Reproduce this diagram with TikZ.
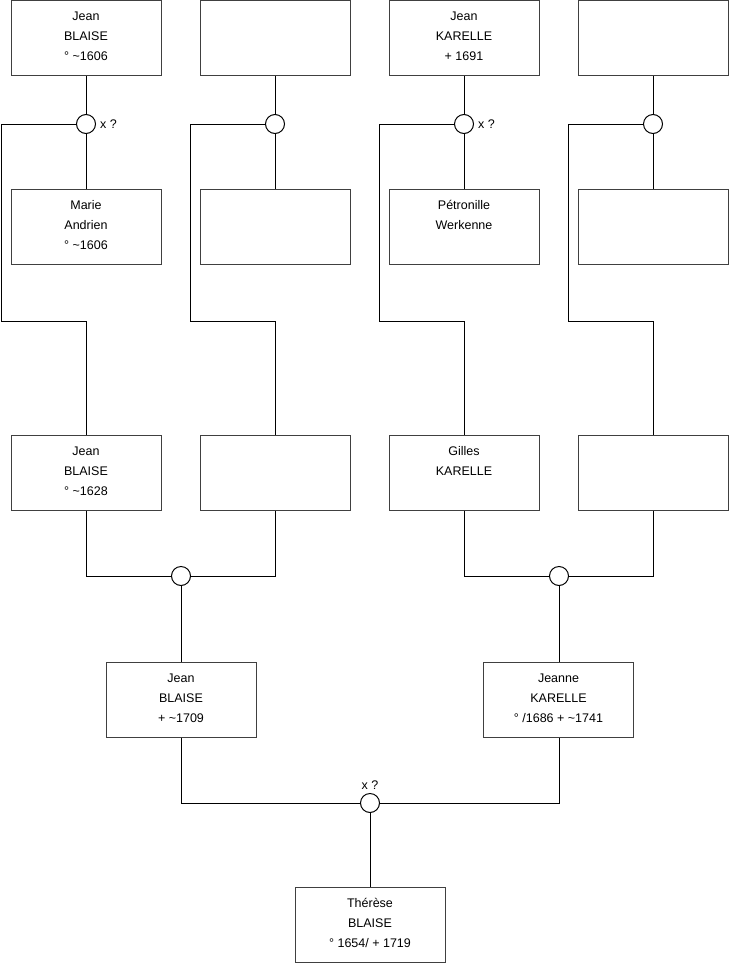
\documentclass[tikz,border=0pt]{standalone}
\usepackage{fontspec}
\setmainfont{Liberation Sans}
\newcommand\fl{\rule{0pt}{12pt}}
\begin{document}
\begin{tikzpicture}[x=1pt,y=-1pt,
  person/.style={draw=black!75,line width=1pt,minimum width=150pt,minimum height=75pt,inner sep=0pt,fill=white},
  union/.style={draw=black,line width=1pt,circle,minimum size=19pt,inner sep=0pt,fill=white},
  lbl/.style={anchor=north,inner sep=0pt,align=center,font=\fontsize{12.5}{20}\selectfont},
  xlbl/.style={inner sep=0pt,font=\fontsize{12.5}{14}\selectfont},
  link/.style={draw=black,line width=1pt}]
\useasboundingbox (0,0) rectangle (740,975);
% unions
\node[union] (u1) at (86,124) {};
\node[union] (u2) at (275,124) {};
\node[union] (u3) at (464,124) {};
\node[union] (u4) at (653,124) {};
\node[union] (u5) at (181,576) {};
\node[union] (u6) at (559,576) {};
\node[union] (u7) at (370,803) {};
% coordinates for the wires
\coordinate (c1a) at (1,124);   \coordinate (c1b) at (1,321);   \coordinate (c1c) at (86,321);
\coordinate (c2a) at (190,124); \coordinate (c2b) at (190,321); \coordinate (c2c) at (275,321);
\coordinate (c3a) at (379,124); \coordinate (c3b) at (379,321); \coordinate (c3c) at (464,321);
\coordinate (c4a) at (568,124); \coordinate (c4b) at (568,321); \coordinate (c4c) at (653,321);
% row 1
\node[person] (a1) at (86,38) {};
\node[person] (a2) at (275,38) {};
\node[person] (a3) at (464,38) {};
\node[person] (a4) at (653,38) {};
% row 2
\node[person] (b1) at (86,227) {};
\node[person] (b2) at (275,227) {};
\node[person] (b3) at (464,227) {};
\node[person] (b4) at (653,227) {};
% row 3
\node[person] (r1) at (86,472.5) {};
\node[person] (r2) at (275,472.5) {};
\node[person] (r3) at (464,472.5) {};
\node[person] (r4) at (653,472.5) {};
% row 4
\node[person] (p1) at (181,699.5) {};
\node[person] (p2) at (558.5,699.5) {};
% row 5
\node[person] (t) at (370,925) {};
% wires
\draw[link] (a1) -- (u1); \draw[link] (u1) -- (b1);
\draw[link] (u1.west) -- (c1a) -- (c1b) -- (c1c) -- (r1.north -| c1c);
\draw[link] (a2) -- (u2); \draw[link] (u2) -- (b2);
\draw[link] (u2.west) -- (c2a) -- (c2b) -- (c2c) -- (r2.north -| c2c);
\draw[link] (a3) -- (u3); \draw[link] (u3) -- (b3);
\draw[link] (u3.west) -- (c3a) -- (c3b) -- (c3c) -- (r3.north -| c3c);
\draw[link] (a4) -- (u4); \draw[link] (u4) -- (b4);
\draw[link] (u4.west) -- (c4a) -- (c4b) -- (c4c) -- (r4.north -| c4c);
\draw[link] (r1.south) |- (u5.west);
\draw[link] (u5.east) -| (r2.south);
\draw[link] (u5.south) -- (u5.south |- p1.north);
\draw[link] (r3.south) |- (u6.west);
\draw[link] (u6.east) -| (r4.south);
\draw[link] (u6.south) -- (u6.south |- p2.north);
\draw[link] (p1.south -| u5) |- (u7.west);
\draw[link] (u7.east) -| (p2.south -| u6);
\draw[link] (u7.south) -- (u7.south |- t.north);
% texts
\node[lbl] (ta1) at ([yshift=-8.5pt]a1.north) {\fl Jean\\BLAISE\\° \textasciitilde1606};
\node[lbl] (ta3) at ([yshift=-8.5pt]a3.north) {\fl Jean\\KARELLE\\+ 1691};
\node[lbl] (tb1) at ([yshift=-8.5pt]b1.north) {\fl Marie\\Andrien\\° \textasciitilde1606};
\node[lbl] (tb3) at ([yshift=-8.5pt]b3.north) {\fl Pétronille\\Werkenne};
\node[lbl] (tr1) at ([yshift=-8.5pt]r1.north) {\fl Jean\\BLAISE\\° \textasciitilde1628};
\node[lbl] (tr3) at ([yshift=-8.5pt]r3.north) {\fl Gilles\\KARELLE};
\node[lbl] (tp1) at ([yshift=-8.5pt]p1.north) {\fl Jean\\BLAISE\\+ \textasciitilde1709};
\node[lbl] (tp2) at ([yshift=-8.5pt]p2.north) {\fl Jeanne\\KARELLE\\° /1686 + \textasciitilde1741};
\node[lbl] (tt) at ([yshift=-8.5pt]t.north) {\fl Thérèse\\BLAISE\\° 1654/ + 1719};
\node[xlbl,anchor=west] (x1) at ([xshift=4pt]u1.east) {x ?};
\node[xlbl,anchor=west] (x3) at ([xshift=4pt]u3.east) {x ?};
\node[xlbl,anchor=south] (x7) at ([yshift=3pt]u7.north) {x ?};
\end{tikzpicture}
\end{document}
